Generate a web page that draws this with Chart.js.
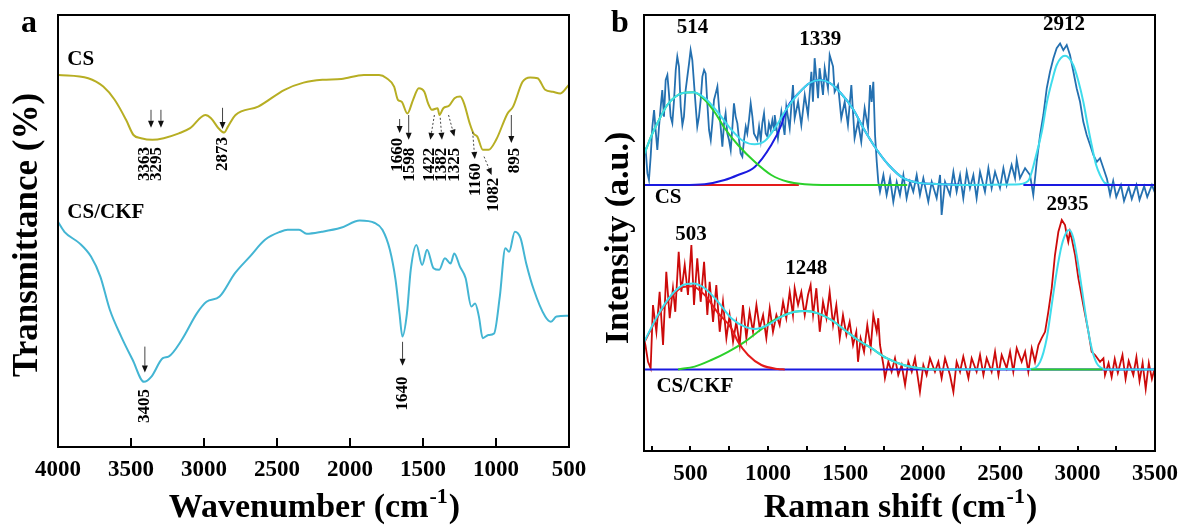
<!DOCTYPE html>
<html>
<head>
<meta charset="utf-8">
<title>FTIR and Raman spectra</title>
<script src="https://cdn.jsdelivr.net/npm/chart.js@4.4.1/dist/chart.umd.min.js"></script>
<style>
html, body { margin: 0; padding: 0; background: #fff; }
#wrap { position: relative; width: 1180px; height: 528px; }
canvas { position: absolute; top: 0; }
#ftir { left: 0; }
#raman { left: 600px; }
</style>
</head>
<body>
<div id="wrap">
  <canvas id="ftir" width="600" height="528"></canvas>
  <canvas id="raman" width="580" height="528"></canvas>
</div>
<script>
var SERIF = "'Liberation Serif', 'Times New Roman', serif";

// ---- FTIR (panel a) ----
var ftirTicks = [4000, 3500, 3000, 2500, 2000, 1500, 1000, 500];

var csWave = [4000, 3793, 3690, 3612, 3534, 3483, 3431, 3353, 3276, 3172, 3095, 2991, 2952, 2901, 2862, 2836, 2784, 2629, 2448, 2318, 2189, 2060, 1905, 1801, 1749, 1698, 1672, 1646, 1607, 1568, 1529, 1491, 1465, 1439, 1400, 1387, 1361, 1322, 1284, 1245, 1219, 1180, 1154, 1128, 1090, 1051, 999, 921, 883, 818, 766, 715, 663, 611, 559, 500];
var csTrans = [93, 92.2, 90.1, 86.8, 81.8, 78, 77.2, 76.8, 77.2, 78.4, 79.7, 83, 82.2, 79.7, 78.6, 80.1, 83, 85.1, 89.3, 91.1, 91.8, 92, 93, 93, 92.2, 90.1, 86.8, 86.3, 83.4, 86.8, 89.7, 88.8, 85.9, 84.3, 84.7, 83, 84.7, 85.3, 87.2, 87.6, 85.9, 80.9, 78.4, 77.6, 74.3, 74.3, 76.8, 83.4, 85.1, 91.3, 92.4, 92.2, 89.3, 88.8, 88.4, 90.6];

var ckfWave = [4000, 3956, 3852, 3774, 3710, 3645, 3567, 3489, 3411, 3360, 3282, 3243, 3152, 3049, 2983, 2893, 2789, 2686, 2582, 2478, 2427, 2349, 2297, 2193, 2063, 1933, 1830, 1778, 1727, 1688, 1661, 1641, 1610, 1584, 1545, 1506, 1472, 1428, 1389, 1350, 1311, 1286, 1247, 1208, 1169, 1143, 1117, 1091, 1052, 1013, 974, 936, 910, 871, 832, 793, 741, 663, 624, 585, 500];
var ckfTrans = [56.3, 53.8, 50.9, 47.6, 42.6, 34.3, 27.6, 21.8, 16.3, 17.6, 22.2, 22.6, 26.8, 33.4, 36.3, 37.6, 43.4, 47.6, 51.8, 53.8, 54.3, 54.3, 53.3, 53.8, 54.8, 56.6, 56, 54.3, 49.3, 41.8, 33.4, 27.6, 33.4, 44.3, 50.5, 45.5, 49.3, 44.7, 44.3, 47.2, 45.9, 48.4, 45.1, 42.2, 35.1, 35.9, 32.6, 27.2, 28, 28.4, 37.6, 49.7, 48.8, 53.8, 52.2, 45.9, 39.3, 32.6, 31.3, 32.6, 32.8];

// band label, arrow from (wave, T) to (wave, T), label wave, label top T, dashed
var ftirMarks = [
  ['3363', 3363, 84.3, 3363, 79.8, 3405, 75, false],
  ['3295', 3295, 84.3, 3295, 79.8, 3322, 75, false],
  ['2873', 2873, 84.8, 2873, 79.5, 2873, 77.5, false],
  ['1660', 1660, 82, 1660, 78.5, 1672, 77.3, false],
  ['1598', 1598, 83, 1598, 76.8, 1592, 74.8, false],
  ['1422', 1422, 83, 1450, 76.8, 1454, 74.8, true],
  ['1382', 1382, 82.3, 1370, 76.8, 1370, 74.8, true],
  ['1325', 1325, 83, 1285, 77.6, 1285, 74.8, true],
  ['1160', 1160, 78.8, 1145, 72, 1142, 71, true],
  ['1082', 1082, 72.6, 1030, 68, 1018, 67.3, true],
  ['895', 895, 83, 895, 76, 872, 74.8, false],
  ['3405', 3405, 25.1, 3405, 18.6, 3405, 14.5, false],
  ['1640', 1640, 26.3, 1640, 20.3, 1640, 17.6, false]
];

// ---- Raman (panel b) ----
var ramanTicks = [500, 1000, 1500, 2000, 2500, 3000, 3500];

var csRaman = [[200, 74], [211, 75.25], [222, 69.4], [232, 67.75], [243, 73.6], [254, 81.1], [265, 85.25], [275, 80.25], [286, 75.25], [297, 81.1], [308, 86.1], [318, 90.25], [329, 83.6], [340, 92.75], [351, 94], [361, 89.4], [372, 83.6], [383, 82], [394, 87.75], [405, 95.25], [415, 98.6], [426, 96.1], [437, 86.1], [448, 81.5], [458, 83.6], [469, 90.25], [480, 93.6], [491, 96.9], [501, 100.25], [512, 97.75], [523, 91.9], [534, 86.1], [544, 81.1], [555, 83.6], [566, 87.75], [577, 93.6], [588, 95.25], [598, 94.4], [609, 86.9], [620, 80.25], [631, 77.75], [641, 81.9], [652, 87.75], [663, 89.4], [674, 91.1], [684, 86.1], [695, 81.1], [706, 76.1], [717, 81.9], [727, 84.4], [738, 79.4], [749, 77.75], [760, 75.25], [771, 81.1], [781, 86.9], [792, 83.6], [803, 81.9], [814, 77.75], [824, 74.4], [835, 73.6], [846, 77.75], [857, 81.1], [867, 79.4], [878, 82.75], [889, 86.9], [900, 83.6], [910, 79.4], [932, 77.75], [943, 81.1], [954, 77.75], [964, 81.9], [975, 84.4], [986, 79.4], [997, 78.6], [1007, 81.9], [1018, 80.25], [1029, 82.75], [1040, 80.25],
  [1044, 84], [1065, 78.2], [1087, 84.8], [1108, 79], [1119, 86.1], [1141, 80.7], [1162, 91.5], [1173, 83.2], [1195, 87.3], [1216, 81.5], [1238, 89], [1259, 84], [1281, 94.8], [1291, 87.3], [1302, 98.2], [1324, 88.2], [1334, 95.7], [1356, 89], [1367, 95.7], [1388, 90.7], [1399, 99], [1421, 96.1], [1431, 89.8], [1453, 91.5], [1474, 83.2], [1496, 87.3], [1517, 81.5], [1539, 91.5], [1560, 78.2], [1582, 82.3], [1603, 77.3], [1625, 85.7], [1647, 80.7],
  [1660, 91.5], [1670, 87.3], [1681, 92.3], [1692, 79], [1703, 72.3], [1713, 67.3], [1724, 64.8], [1746, 69], [1767, 64], [1789, 68.2], [1810, 62.3], [1832, 67.3], [1853, 64], [1875, 69], [1896, 63.2], [1918, 67.3], [1939, 64.8], [1961, 69], [1982, 64], [2004, 68.2], [2036, 62.3], [2058, 67.3], [2090, 63.2], [2112, 69], [2122, 59], [2144, 67.3], [2176, 64], [2198, 69.8], [2219, 64.8], [2241, 69], [2262, 63.2], [2284, 69.8], [2305, 65.7], [2327, 69], [2348, 63.2], [2370, 69.8], [2402, 64.8], [2424, 70.7], [2445, 65.7], [2467, 69.8], [2499, 65.7], [2521, 70.7], [2542, 66.5], [2574, 71.5], [2596, 68.2], [2607, 72.8], [2628, 68.2], [2661, 70.7], [2693, 69], [2714, 64], [2736, 72.3], [2758, 79], [2779, 84], [2801, 90.7], [2822, 94.8], [2844, 98.2], [2865, 100.7], [2887, 101.9], [2908, 100.2], [2930, 101.5], [2951, 99], [2973, 94.8], [2994, 90.7], [3016, 87.3], [3037, 82.3], [3059, 79], [3081, 76.5], [3102, 74], [3124, 72.3], [3145, 73.2], [3167, 70.7],
  [3190, 68], [3210, 64], [3230, 67.5], [3250, 63.5], [3280, 66.5], [3300, 62.5], [3330, 66], [3350, 63], [3380, 66.5], [3400, 62.8], [3430, 66.2], [3450, 63.5], [3480, 66.5], [3500, 64.5]];

var csFitSum = [[200, 74], [250, 79], [300, 83], [350, 86.5], [400, 88.5], [450, 89.5], [520, 89.7], [600, 88], [680, 84.5], [760, 80.5], [840, 77.5], [915, 76.7], [980, 77.5], [1050, 81], [1120, 85.5], [1200, 89.5], [1270, 92], [1335, 92.75], [1400, 92], [1470, 89.5], [1550, 85.5], [1620, 80.5], [1700, 75.5], [1780, 71.5], [1875, 68.2], [1980, 67], [2090, 66.75], [2300, 66.5], [2600, 66.6], [2680, 67.5], [2736, 74.5], [2770, 80], [2801, 87], [2835, 92.5], [2865, 96.5], [2919, 98.8], [2972, 96.5], [3005, 92.5], [3037, 87.3], [3065, 81.5], [3091, 76.5], [3120, 71.5], [3145, 69], [3177, 67], [3250, 66.5], [3500, 66.5]];
var csFit514 = [[200, 74], [250, 79], [300, 83], [350, 86.5], [400, 88.5], [450, 89.5], [520, 89.7], [600, 87.5], [660, 84.5], [721, 80.7], [807, 76.5], [915, 72.3], [1022, 69], [1130, 67.3], [1238, 66.7], [1350, 66.5], [1900, 66.5]];
var csFit1339 = [[200, 66.5], [450, 66.5], [592, 66.7], [721, 67.75], [807, 69], [915, 71], [1022, 76.5], [1087, 81.5], [1120, 85.5], [1200, 89.5], [1270, 92], [1335, 92.75], [1400, 92], [1470, 89.5], [1550, 85.5], [1620, 80.5], [1700, 75.5], [1780, 71.5], [1875, 68.2], [1980, 67], [2090, 66.75], [2300, 66.5]];
var csBase = [[200, 66.5], [1200, 66.5]];
var csBase2912 = [[2650, 66.5], [3500, 66.5]];

var ckfRaman = [[200, 28], [209, 26.5], [226, 22.3], [243, 20.7], [258, 36.5], [280, 29.8], [301, 39.8], [323, 26.5], [344, 44.8], [366, 33.2], [387, 40.7], [402, 34.8], [424, 49.8], [441, 39.8], [463, 46.5], [484, 39], [506, 51.5], [523, 36.5], [544, 48.2], [566, 37.3], [588, 47.3], [609, 34], [624, 42.3], [646, 32.3], [667, 41.5], [689, 29.8], [710, 37.3], [732, 28.2], [753, 34], [775, 27.3], [796, 32.3], [818, 26.5], [839, 36.5], [861, 28.2], [882, 34.8], [904, 29.8], [926, 36.5], [947, 30.7], [969, 34], [990, 28.2], [1012, 35.7], [1033, 29.8], [1055, 34], [1076, 31.5], [1098, 37.3], [1119, 33.2], [1141, 39.8], [1162, 34], [1173, 40.7], [1195, 36.5], [1216, 39.8], [1238, 34], [1259, 39], [1276, 41.5], [1292, 34], [1313, 40.7], [1335, 29.8], [1356, 37.3], [1378, 33.2], [1399, 39.8], [1421, 31.5], [1442, 36.5], [1464, 28.2], [1485, 34], [1507, 29], [1528, 32.3], [1550, 26.5], [1571, 29.8], [1582, 22.3], [1599, 28.2], [1621, 24.8], [1642, 31.5], [1664, 25.7], [1681, 34], [1703, 29.8], [1713, 33.2], [1724, 26.5], [1746, 21.5], [1756, 18.2], [1778, 22.3], [1799, 19.8], [1821, 23.2], [1842, 19], [1864, 21.5], [1886, 16.5], [1907, 22.3], [1929, 19.8], [1950, 23.2], [1982, 14.8], [2004, 21.5], [2025, 19], [2047, 23.2], [2079, 19.8], [2101, 22.3], [2122, 18.2], [2144, 23.2], [2176, 19], [2198, 14.8], [2219, 22.3], [2241, 19.8], [2262, 23.6], [2295, 18.2], [2316, 23.2], [2348, 19.8], [2370, 24], [2392, 19], [2413, 23.2], [2445, 19.8], [2467, 24.8], [2489, 19], [2510, 24], [2542, 20.7], [2564, 24.8], [2585, 19.8], [2607, 25.7], [2639, 22.3], [2661, 24.8], [2682, 19.8], [2704, 25.7], [2725, 22.3], [2747, 26.5], [2768, 28.2], [2790, 29.8], [2811, 34.8], [2833, 40.7], [2854, 49], [2876, 54.8], [2898, 57.75], [2919, 56.5], [2930, 54], [2940, 52.3], [2951, 54.8], [2962, 53.2], [2984, 49], [3005, 43.2], [3037, 36.5], [3070, 29.8], [3091, 24.8], [3113, 24], [3145, 22.3], [3167, 23.2], [3177, 19], [3200, 22], [3220, 18.5], [3240, 23], [3260, 19.5], [3290, 24], [3310, 18], [3330, 22.5], [3360, 19], [3380, 23.5], [3400, 17.5], [3420, 22], [3440, 15.5], [3460, 22], [3480, 18], [3500, 21]];

var ckfFitSum = [[200, 27.2], [290, 34], [377, 39], [452, 41.5], [516, 41.9], [592, 40.7], [678, 37.3], [764, 33.2], [850, 31.1], [915, 30.5], [1001, 31.5], [1087, 33.6], [1173, 34.8], [1238, 35], [1324, 34.4], [1410, 32.75], [1496, 30.25], [1582, 27.75], [1668, 25.7], [1767, 23.2], [1875, 21.5], [1982, 20.7], [2090, 20.4], [2693, 20.5], [2758, 22.3], [2801, 28.2], [2833, 36.5], [2865, 44.8], [2898, 51.5], [2930, 54.8], [2947, 55.25], [2973, 53.2], [2994, 49], [3027, 40.7], [3059, 32.3], [3091, 25.7], [3124, 21.9], [3156, 20.7], [3177, 20.4], [3500, 20.4]];
var ckfFit503 = [[200, 27], [290, 33.7], [377, 38.6], [452, 41], [510, 41.2], [592, 39], [678, 34.5], [764, 30.7], [807, 27.3], [872, 24], [958, 21.5], [1065, 20.5], [1109, 20.4]];
var ckfFit1248 = [[420, 20.4], [527, 21.1], [635, 22.75], [743, 24.8], [850, 27.3], [936, 29.8], [1022, 32.3], [1108, 34], [1173, 34.8], [1238, 35], [1324, 34.4], [1410, 32.75], [1496, 30.25], [1582, 27.75], [1668, 25.7], [1767, 23.2], [1875, 21.5], [1982, 20.7], [2090, 20.4]];
var ckfBase = [[200, 20.4], [3500, 20.4]];
var ckfBase2935 = [[2700, 20.4], [3160, 20.4]];

// peak labels: text, shift, intensity
var ramanPeaks = [['514', 514, 105.75], ['1339', 1339, 102.75], ['2912', 2912, 106.5], ['2935', 2935, 61.5], ['503', 503, 54], ['1248', 1248, 45.7]];

function toXY(xs, ys) {
  return xs.map(function (x, i) { return { x: x, y: ys[i] }; });
}
function fromPairs(p) {
  return p.map(function (d) { return { x: d[0], y: d[1] }; });
}

function drawArrow(ctx, x1, y1, x2, y2, dashed) {
  var a = Math.atan2(y2 - y1, x2 - x1), head = 7, half = 3;
  var bx = x2 - head * Math.cos(a), by = y2 - head * Math.sin(a);
  ctx.save();
  ctx.strokeStyle = '#444';
  ctx.lineWidth = 1;
  if (dashed) ctx.setLineDash([2, 2]);
  ctx.beginPath();
  ctx.moveTo(x1, y1);
  ctx.lineTo(bx, by);
  ctx.stroke();
  ctx.setLineDash([]);
  ctx.fillStyle = '#111';
  ctx.beginPath();
  ctx.moveTo(x2, y2);
  ctx.lineTo(bx + half * Math.sin(a), by - half * Math.cos(a));
  ctx.lineTo(bx - half * Math.sin(a), by + half * Math.cos(a));
  ctx.closePath();
  ctx.fill();
  ctx.restore();
}

function upText(ctx, text, x, y, size, align) {
  ctx.save();
  ctx.translate(x, y);
  ctx.rotate(-Math.PI / 2);
  ctx.font = 'bold ' + size + 'px ' + SERIF;
  ctx.fillStyle = '#000';
  ctx.textAlign = align;
  ctx.textBaseline = 'middle';
  ctx.fillText(text, 0, 0);
  ctx.restore();
}

function plainText(ctx, text, x, y, size, align) {
  ctx.save();
  ctx.font = 'bold ' + size + 'px ' + SERIF;
  ctx.fillStyle = '#000';
  ctx.textAlign = align;
  ctx.textBaseline = 'middle';
  ctx.fillText(text, x, y);
  ctx.restore();
}

// axis title with the cm^-1 unit
function unitTitle(ctx, lead, cx, baseY) {
  var big = 'bold 34px ' + SERIF, small = 'bold 22px ' + SERIF;
  ctx.save();
  ctx.fillStyle = '#000';
  ctx.textAlign = 'left';
  ctx.textBaseline = 'alphabetic';
  ctx.font = big;
  var w1 = ctx.measureText(lead + '(cm').width, w3 = ctx.measureText(')').width;
  ctx.font = small;
  var w2 = ctx.measureText('-1').width;
  var x = cx - (w1 + w2 + w3) / 2;
  ctx.font = big;
  ctx.fillText(lead + '(cm', x, baseY);
  ctx.font = small;
  ctx.fillText('-1', x + w1 + 1, baseY - 14);
  ctx.font = big;
  ctx.fillText(')', x + w1 + w2 + 2, baseY);
  ctx.restore();
}

function frame(ctx, area) {
  ctx.save();
  ctx.strokeStyle = '#000';
  ctx.lineWidth = 2;
  ctx.strokeRect(area.left, area.top, area.right - area.left, area.bottom - area.top);
  ctx.restore();
}

function innerTicks(ctx, xs, values, bottom, len) {
  ctx.save();
  ctx.strokeStyle = '#000';
  ctx.lineWidth = 2;
  ctx.beginPath();
  values.forEach(function (v) {
    var px = Math.round(xs.getPixelForValue(v));
    ctx.moveTo(px, bottom);
    ctx.lineTo(px, bottom - len);
  });
  ctx.stroke();
  ctx.restore();
}

var ftirDecor = {
  id: 'ftirDecor',
  afterDatasetsDraw: function (chart) {
    var ctx = chart.ctx, xs = chart.scales.x, ys = chart.scales.y, area = chart.chartArea;
    frame(ctx, area);
    innerTicks(ctx, xs, [3500, 3000, 2500, 2000, 1500, 1000], area.bottom, 9);
    ftirMarks.forEach(function (m) {
      drawArrow(ctx, xs.getPixelForValue(m[1]), ys.getPixelForValue(m[2]),
        xs.getPixelForValue(m[3]), ys.getPixelForValue(m[4]), m[7]);
      upText(ctx, m[0], xs.getPixelForValue(m[5]), ys.getPixelForValue(m[6]), 17, 'right');
    });
    plainText(ctx, 'CS', xs.getPixelForValue(3936), ys.getPixelForValue(96.75), 21, 'left');
    plainText(ctx, 'CS/CKF', xs.getPixelForValue(3936), ys.getPixelForValue(58.5), 21, 'left');
    plainText(ctx, 'a', 29, 24, 32, 'center');
    upText(ctx, 'Transmittance (%)', 28, 235, 35, 'center');
    unitTitle(ctx, 'Wavenumber ', (area.left + area.right) / 2, 517);
  }
};

var ramanDecor = {
  id: 'ramanDecor',
  afterDatasetsDraw: function (chart) {
    var ctx = chart.ctx, xs = chart.scales.x, ys = chart.scales.y, area = chart.chartArea;
    frame(ctx, area);
    var t = [];
    for (var v = 250; v < 3500; v += 250) t.push(v);
    innerTicks(ctx, xs, t, area.bottom, 5);
    ramanPeaks.forEach(function (p) {
      plainText(ctx, p[0], xs.getPixelForValue(p[1]), ys.getPixelForValue(p[2]), 21, 'center');
    });
    plainText(ctx, 'CS', xs.getPixelForValue(269), ys.getPixelForValue(63.25), 21, 'left');
    plainText(ctx, 'CS/CKF', xs.getPixelForValue(280), ys.getPixelForValue(16.1), 21, 'left');
    plainText(ctx, 'b', 20, 24, 32, 'center');
    upText(ctx, 'Intensity (a.u.)', 19, 238, 34, 'center');
    unitTitle(ctx, 'Raman shift ', (area.left + area.right) / 2, 517);
  }
};

function line(data, color, width, order, smooth) {
  return {
    data: data,
    borderColor: color,
    borderWidth: width,
    pointRadius: 0,
    fill: false,
    order: order,
    tension: 0,
    cubicInterpolationMode: smooth ? 'monotone' : 'default'
  };
}

function axisX(min, max, reverse, ticks, height) {
  return {
    type: 'linear',
    min: min,
    max: max,
    reverse: reverse,
    grid: { display: false },
    border: { display: false },
    afterBuildTicks: function (s) { s.ticks = ticks.map(function (v) { return { value: v }; }); },
    afterFit: function (s) { s.height = height; },
    ticks: {
      autoSkip: false,
      maxRotation: 0,
      padding: 1,
      color: '#000',
      font: { family: SERIF, size: 23, weight: 'bold' },
      callback: function (v) { return String(v); }
    }
  };
}

Chart.defaults.font.family = SERIF;

new Chart(document.getElementById('ftir'), {
  type: 'line',
  data: {
    datasets: [
      line(toXY(csWave, csTrans), '#b7ae23', 2, 0, true),
      line(toXY(ckfWave, ckfTrans), '#43b5d3', 2, 1, true)
    ]
  },
  options: {
    responsive: false,
    animation: false,
    events: [],
    layout: { padding: { left: 58, right: 31, top: 15, bottom: 0 } },
    plugins: { legend: { display: false }, tooltip: { enabled: false } },
    scales: {
      x: axisX(500, 4000, true, ftirTicks, 81),
      y: { display: false, min: 0, max: 108 }
    }
  },
  plugins: [ftirDecor]
});

new Chart(document.getElementById('raman'), {
  type: 'line',
  data: {
    datasets: [
      line(fromPairs(csBase2912), '#1a1ae0', 2, 0, false),
      line(fromPairs(csFitSum), '#3fdcec', 2, 1, true),
      line(fromPairs(csFit514), '#2bd02b', 2, 2, true),
      line(fromPairs(csFit1339), '#1a1ae0', 2, 3, true),
      line(fromPairs(csBase), '#e41a1a', 2, 4, false),
      line(fromPairs(csRaman), '#2470b0', 1.8, 5, false),
      line(fromPairs(ckfBase2935), '#2bd02b', 2, 0, false),
      line(fromPairs(ckfFitSum), '#3fdcec', 2, 1, true),
      line(fromPairs(ckfFit503), '#e41a1a', 2, 2, true),
      line(fromPairs(ckfFit1248), '#2bd02b', 2, 3, true),
      line(fromPairs(ckfBase), '#1a1ae0', 2, 4, false),
      line(fromPairs(ckfRaman), '#cc0a0a', 1.8, 5, false)
    ]
  },
  options: {
    responsive: false,
    animation: false,
    events: [],
    layout: { padding: { left: 44, right: 25, top: 15, bottom: 0 } },
    plugins: { legend: { display: false }, tooltip: { enabled: false } },
    scales: {
      x: axisX(200, 3500, false, ramanTicks, 77),
      y: { display: false, min: 0, max: 109 }
    }
  },
  plugins: [ramanDecor]
});
</script>
</body>
</html>
